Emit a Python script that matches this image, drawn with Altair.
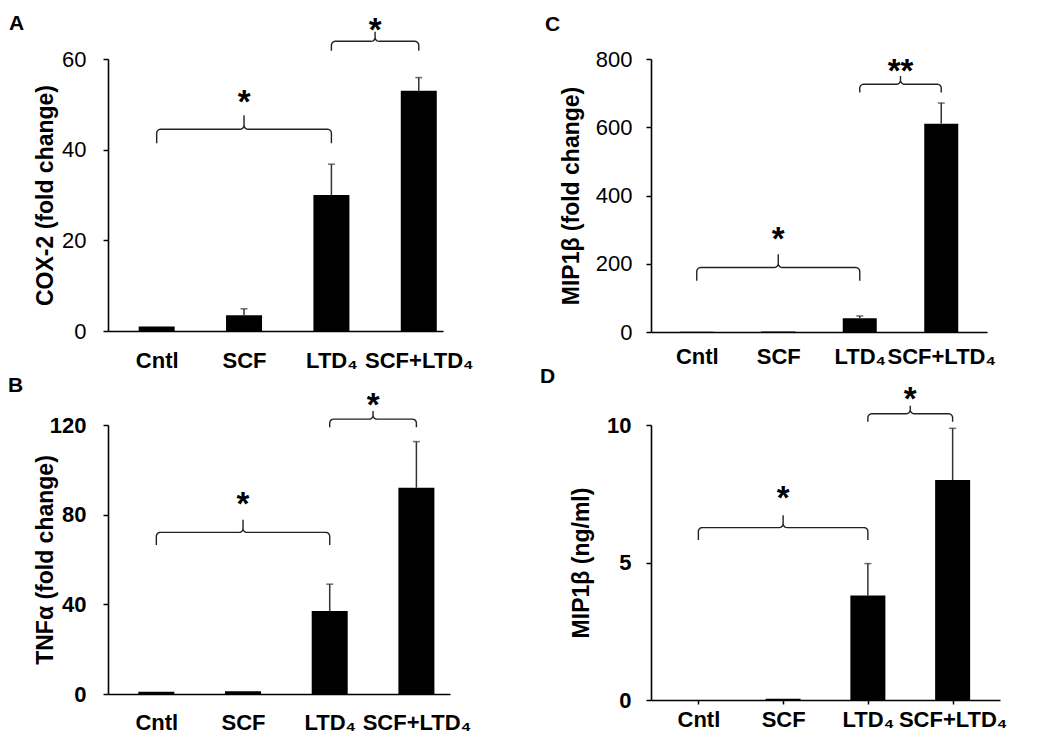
import json
import numpy as np
import pandas as pd
import altair as alt

# ---------------- data ----------------
groups = ["Cntl", "SCF", "LTD₄", "SCF+LTD₄"]
positions = [0, 1, 2, 3]

cox2_mean = [1.0, 3.5, 30.0, 53.0]
cox2_err = [0.0, 1.4, 6.8, 2.9]
tnf_mean = [1.0, 1.2, 37.0, 92.0]
tnf_err = [0.0, 0.0, 12.0, 20.6]
mipfold_mean = [1.0, 1.5, 40.0, 610.0]
mipfold_err = [0.0, 0.0, 7.0, 61.0]
mipng_mean = [0.0, 0.05, 3.8, 8.0]
mipng_err = [0.0, 0.0, 1.16, 1.88]

cox2_ticks = [0, 20, 40, 60]
tnf_ticks = [0, 40, 80, 120]
mipfold_ticks = [0, 200, 400, 600, 800]
mipng_ticks = [0, 5, 10]

# significance brackets: from group index, to group index
bracket_from = [0, 2]
bracket_to = [2, 3]
cox2_bracket_y = [44.5, 63.9]
cox2_bracket_end = [41.4, 61.8]
cox2_star_y = [52.1, 68.0]
cox2_stars = ["*", "*"]
tnf_bracket_y = [72.1, 122.6]
tnf_bracket_end = [66.5, 119.0]
tnf_star_y = [87.9, 132.2]
tnf_stars = ["*", "*"]
mipfold_bracket_y = [189.0, 726.0]
mipfold_bracket_end = [150.0, 702.0]
mipfold_star_y = [294.0, 784.0]
mipfold_stars = ["*", "**"]
mipng_bracket_y = [6.27, 10.41]
mipng_bracket_end = [5.82, 10.12]
mipng_star_y = [7.59, 11.2]
mipng_stars = ["*", "*"]

# ---------------- helpers ----------------
FONT = "Liberation Sans"
LABEL_EXPR = "%s[datum.value]" % json.dumps(groups, ensure_ascii=False)


def brace_points(x0, x1, level, end, px_x, px_y, r=4.0):
    """Curly brace (opening downwards) from x0 to x1 at height `level`."""
    drop = (level - end) * px_y
    rise = max(drop, r + 2)
    L = (x1 - x0) * px_x
    m = L / 2.0

    def arc(cx, cy, a0, a1, n=7):
        a = np.radians(np.linspace(a0, a1, n))
        return list(zip(cx + r * np.cos(a), cy + r * np.sin(a)))

    pts = [(0.0, drop)]
    pts += arc(r, r, 180, 270)
    pts += arc(m - r, -r, 90, 0)
    pts += [(m, -rise)]
    pts += arc(m + r, -r, 180, 90)
    pts += arc(L - r, r, 270, 360)
    pts += [(L, drop)]
    return [(x0 + px / px_x, level - py / px_y) for px, py in pts]


def panel(letter, means, errs, ymax, yticks, ytitle, by, bend, sy, stars,
          width, height, xmax, bold_ticks, show_xticks, title_x, bar_w,
          xlabel_pad, ylabel_pad, letter_dx, letter_offset):
    xscale = alt.Scale(domain=[-0.5, xmax], nice=False, zero=False)
    yscale = alt.Scale(domain=[0, ymax], nice=False, zero=True)
    xaxis = alt.Axis(values=positions, labelExpr=LABEL_EXPR, title=None, grid=False,
                     domainColor="black", domainWidth=1.6, ticks=show_xticks,
                     tickColor="black", tickWidth=1.5, tickSize=4,
                     labelFont=FONT, labelFontSize=22, labelFontWeight="bold",
                     labelColor="black", labelPadding=xlabel_pad, labelAngle=0,
                     labelFlush=False, labelOverlap=False)
    yaxis = alt.Axis(values=yticks, title=ytitle, grid=False,
                     domainColor="black", domainWidth=1.6,
                     tickColor="black", tickWidth=1.5, tickSize=5,
                     labelFont=FONT, labelFontSize=22,
                     labelFontWeight="bold" if bold_ticks else "normal",
                     labelColor="black", labelPadding=ylabel_pad,
                     labelFlush=False, labelOverlap=False,
                     titleFont=FONT, titleFontSize=23, titleFontWeight="bold",
                     titleColor="black", titleX=title_x, titleBaseline="middle")

    df = pd.DataFrame({"pos": positions, "group": groups, "mean": means, "err": errs})
    df["top"] = df["mean"] + df["err"]
    err_df = df[df["err"] > 0]

    bars = alt.Chart(df).mark_bar(size=bar_w, color="black", orient="vertical").encode(
        x=alt.X("pos:Q", scale=xscale, axis=xaxis),
        y=alt.Y("mean:Q", scale=yscale, axis=yaxis),
    )
    rules = alt.Chart(err_df).mark_rule(color="#333333", strokeWidth=1.5).encode(
        x=alt.X("pos:Q", scale=xscale, axis=xaxis),
        y=alt.Y("mean:Q", scale=yscale, axis=yaxis),
        y2="top:Q",
    )
    caps = alt.Chart(err_df).mark_tick(orient="horizontal", size=7, thickness=1.5,
                                       color="#333333").encode(
        x=alt.X("pos:Q", scale=xscale, axis=xaxis),
        y=alt.Y("top:Q", scale=yscale, axis=yaxis),
    )

    px_x = width / (xmax + 0.5)
    px_y = height / ymax
    rows = []
    for k in range(len(bracket_from)):
        pts = brace_points(bracket_from[k], bracket_to[k], by[k], bend[k], px_x, px_y)
        for j, (xx, yy) in enumerate(pts):
            rows.append({"b": k, "o": j, "bx": xx, "by": yy})
    braces = alt.Chart(pd.DataFrame(rows)).mark_line(color="#222222", strokeWidth=1.4).encode(
        x=alt.X("bx:Q", scale=xscale, axis=xaxis),
        y=alt.Y("by:Q", scale=yscale, axis=yaxis),
        detail="b:N",
        order="o:Q",
    )

    star_df = pd.DataFrame({
        "sx": [(f + t) / 2.0 for f, t in zip(bracket_from, bracket_to)],
        "sy": sy,
        "s": stars,
    })
    star_txt = alt.Chart(star_df).mark_text(font=FONT, fontSize=33, fontWeight="bold",
                                            baseline="alphabetic", dy=18,
                                            color="black").encode(
        x=alt.X("sx:Q", scale=xscale, axis=xaxis),
        y=alt.Y("sy:Q", scale=yscale, axis=yaxis),
        text="s:N",
    )

    return alt.layer(bars, rules, caps, braces, star_txt).properties(
        width=width, height=height,
        title=alt.TitleParams(text=letter, anchor="start", frame="group", orient="top",
                              dx=letter_dx, offset=letter_offset, fontSize=21,
                              font=FONT, fontWeight="bold", color="black",
                              baseline="alphabetic"),
    )


pA = panel("A", cox2_mean, cox2_err, 60, cox2_ticks, "COX-2 (fold change)",
           cox2_bracket_y, cox2_bracket_end, cox2_star_y, cox2_stars,
           width=335, height=272, xmax=3.22, bold_ticks=False, show_xticks=False,
           title_x=-63, bar_w=36, xlabel_pad=19, ylabel_pad=17,
           letter_dx=-99, letter_offset=-36)
pB = panel("B", tnf_mean, tnf_err, 120, tnf_ticks, "TNFα (fold change)",
           tnf_bracket_y, tnf_bracket_end, tnf_star_y, tnf_stars,
           width=342, height=269, xmax=3.33, bold_ticks=True, show_xticks=False,
           title_x=-63, bar_w=36, xlabel_pad=18, ylabel_pad=17,
           letter_dx=-100, letter_offset=-23)
pC = panel("C", mipfold_mean, mipfold_err, 800, mipfold_ticks, "MIP1β (fold change)",
           mipfold_bracket_y, mipfold_bracket_end, mipfold_star_y, mipfold_stars,
           width=336, height=273, xmax=3.5, bold_ticks=False, show_xticks=False,
           title_x=-80, bar_w=34, xlabel_pad=14, ylabel_pad=14,
           letter_dx=-106, letter_offset=-4)
pD = panel("D", mipng_mean, mipng_err, 10, mipng_ticks, "MIP1β (ng/ml)",
           mipng_bracket_y, mipng_bracket_end, mipng_star_y, mipng_stars,
           width=349, height=275, xmax=3.5, bold_ticks=True, show_xticks=True,
           title_x=-70, bar_w=35, xlabel_pad=5, ylabel_pad=15,
           letter_dx=-111, letter_offset=-20)

chart = alt.concat(
    pA, pC, pB, pD, columns=2, align="none", bounds="flush",
    spacing={"row": 93, "column": 201},
).properties(
    padding={"left": 0, "top": 4, "right": 5, "bottom": 0},
    background="white",
).configure_view(stroke=None)

chart.save("out.html", embed_options={"renderer": "svg", "actions": False})
